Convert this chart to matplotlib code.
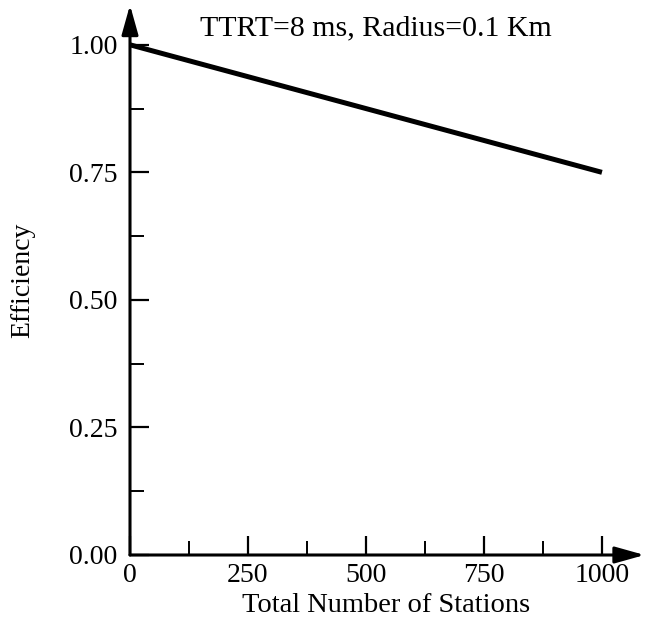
import matplotlib
matplotlib.use("Agg")
import matplotlib.pyplot as plt
from matplotlib.ticker import FixedLocator

plt.rcParams['font.family'] = ['Liberation Serif', 'DejaVu Serif']

stations = [0, 1000]
efficiency = [1.00, 0.75]
x_major = [0, 250, 500, 750, 1000]
x_minor = [125, 375, 625, 875]
y_major = [0.00, 0.25, 0.50, 0.75, 1.00]
y_minor = [0.125, 0.375, 0.625, 0.875]
y_labels = ["0.00", "0.25", "0.50", "0.75", "1.00"]
title = "TTRT=8 ms, Radius=0.1 Km"

W, H = 645, 617
fig = plt.figure(figsize=(W / 100, H / 100), dpi=100)
ax = fig.add_axes([130 / W, 62 / H, 513 / W, 550 / H])
ax.set_xlim(0, 1087)
ax.set_ylim(0, 1.078)

ax.plot(stations, efficiency, color='black', lw=3.6, solid_capstyle='butt')

for s in ['top', 'right', 'left', 'bottom']:
    ax.spines[s].set_visible(False)

arrow = dict(arrowstyle='-|>,head_length=1.5,head_width=0.42', mutation_scale=12,
             color='black', lw=2.2, shrinkA=0, shrinkB=0)
ax.annotate('', xy=(1.003, 0), xytext=(0, 0), xycoords='axes fraction',
            textcoords='axes fraction', arrowprops=arrow, annotation_clip=False)
ax.annotate('', xy=(0, 1), xytext=(0, 0), xycoords='axes fraction',
            textcoords='axes fraction', arrowprops=arrow, annotation_clip=False)

ax.xaxis.set_major_locator(FixedLocator(x_major))
ax.xaxis.set_minor_locator(FixedLocator(x_minor))
ax.yaxis.set_major_locator(FixedLocator(y_major))
ax.yaxis.set_minor_locator(FixedLocator(y_minor))
ax.set_yticklabels(y_labels)

ax.tick_params(which='major', direction='in', length=14, width=1.6, labelsize=20, pad=6)
ax.tick_params(which='minor', direction='in', length=10, width=1.4)
ax.tick_params(axis='y', which='major', pad=9)

ax.set_xlabel("Total Number of Stations", fontsize=20.5, labelpad=3)
ax.set_ylabel("Efficiency", fontsize=20, labelpad=24)

ax.text(521, 1.033, title, fontsize=21.5, ha='center', va='center')

fig.savefig("out.png", dpi=100)
